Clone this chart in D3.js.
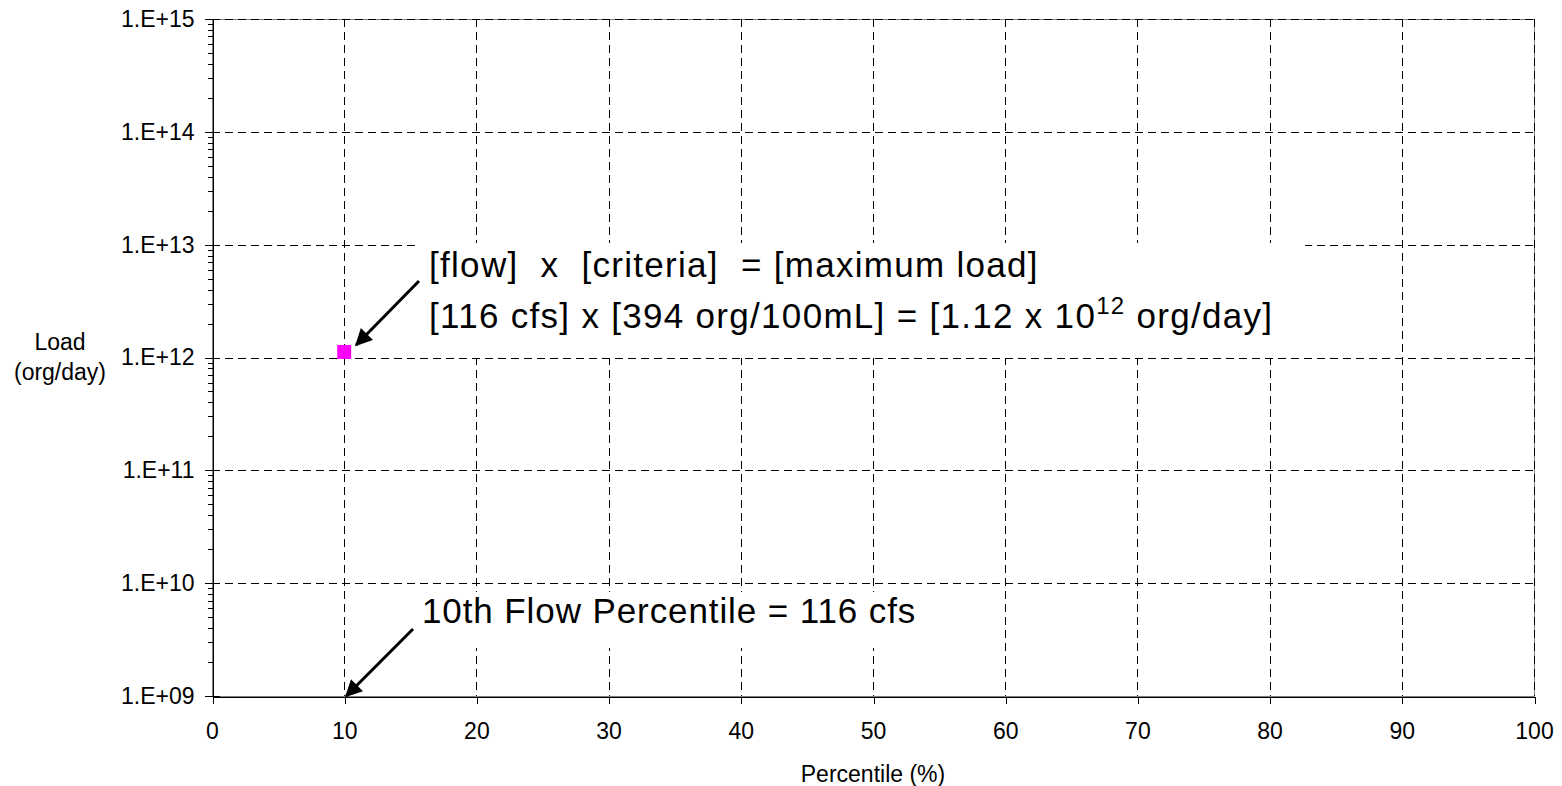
<!DOCTYPE html>
<html>
  <head>
    <meta charset="utf-8">
    <script src="https://d3js.org/d3.v7.min.js" charset="utf-8"></script>
    <style>
      body { margin: 0; background: #fff; }
      text { font-family: Arial, "Liberation Sans", sans-serif; fill: #000; }
    </style>
  </head>
  <body>
    <script type="text/javascript">

// chart data
var xTicks = [0, 10, 20, 30, 40, 50, 60, 70, 80, 90, 100];
var yTicks = [1e9, 1e10, 1e11, 1e12, 1e13, 1e14, 1e15];
var pointPercentile = [10];
var pointLoad = [1.12e12];
var flowPercentile = 10;
var flowLine1 = "[flow]  x  [criteria]  = [maximum load]";
var flowLine2 = "[116 cfs] x [394 org/100mL] = [1.12 x 10";
var flowSup = "12";
var flowLine2End = " org/day]";
var flowNote = "10th Flow Percentile = 116 cfs";

var w = 1562;
var h = 786;
var pLeft = 212, pRight = 1534, pTop = 19, pBottom = 696;

var x = d3.scaleLinear().domain([0, 100]).range([pLeft, pRight]);
var y = d3.scaleLog().domain([1e9, 1e15]).range([pBottom, pTop]);

var svg =
  d3.select("body")
    .append("svg")
    .attr("width", w)
    .attr("height", h);

// plot frame (gray)
svg.append("rect")
  .attr("x", pLeft + 0.5).attr("y", pTop + 0.5)
  .attr("width", pRight - pLeft).attr("height", pBottom - pTop)
  .style("fill", "none").style("stroke", "#808080").style("stroke-width", 1)
  .style("shape-rendering", "crispEdges");

// gridlines
var grid = svg.append("g")
  .style("stroke", "#000").style("stroke-width", 1)
  .style("stroke-dasharray", "8,5").style("shape-rendering", "crispEdges");

grid.selectAll("line.h")
  .data(yTicks.slice(1))
  .enter().append("line")
  .attr("x1", pLeft).attr("x2", pRight)
  .attr("y1", function(d) { return Math.round(y(d)) + 0.5; })
  .attr("y2", function(d) { return Math.round(y(d)) + 0.5; });

grid.selectAll("line.v")
  .data(xTicks.slice(1))
  .enter().append("line")
  .attr("y1", pTop).attr("y2", pBottom)
  .attr("x1", function(d) { return Math.round(x(d)) + 0.5; })
  .attr("x2", function(d) { return Math.round(x(d)) + 0.5; });

// white boxes behind the annotations
svg.append("rect")
  .attr("x", 417).attr("y", 243).attr("width", 888).attr("height", 115)
  .style("fill", "#fff");
svg.append("rect")
  .attr("x", 418).attr("y", 592).attr("width", 518).attr("height", 56)
  .style("fill", "#fff");

// y axis: minor ticks
var minors = [];
for (var e = 9; e < 15; e++) {
  for (var m = 2; m <= 9; m++) minors.push(m * Math.pow(10, e));
}
var yMinor = svg.append("g")
  .attr("transform", "translate(" + (pLeft + 0.5) + ",0)")
  .call(d3.axisLeft(y).tickValues(minors).tickSize(5).tickFormat(""));
yMinor.select(".domain").remove();
yMinor.selectAll("line").style("shape-rendering", "crispEdges");

// y axis: major ticks and labels
var yAxis = svg.append("g")
  .attr("transform", "translate(" + (pLeft + 0.5) + ",0)")
  .call(d3.axisLeft(y).tickValues(yTicks).tickSizeInner(8).tickSizeOuter(0).tickPadding(10)
    .tickFormat(function(d) { return "1.E+" + String(Math.round(Math.log10(d))).padStart(2, "0"); }));
yAxis.selectAll("line").attr("x2", -8).clone().attr("x2", 7);
yAxis.selectAll("line").style("shape-rendering", "crispEdges");
yAxis.select(".domain").style("shape-rendering", "crispEdges");
yAxis.selectAll("text").style("font-size", "23px").style("font-family", "Arial, 'Liberation Sans', sans-serif");

// x axis
var xAxis = svg.append("g")
  .attr("transform", "translate(0," + (pBottom + 0.5) + ")")
  .call(d3.axisBottom(x).tickValues(xTicks).tickSizeInner(7).tickSizeOuter(0).tickPadding(19));
xAxis.selectAll("line").attr("transform", "translate(0.5,0)")
  .style("shape-rendering", "crispEdges");
xAxis.select(".domain").style("shape-rendering", "crispEdges");
xAxis.selectAll("text").style("font-size", "23px").style("font-family", "Arial, 'Liberation Sans', sans-serif");

// axis titles
svg.append("text")
  .attr("x", (pLeft + pRight) / 2).attr("y", 782)
  .attr("text-anchor", "middle").style("font-size", "23px")
  .text("Percentile (%)");

var yTitle = svg.append("text")
  .attr("text-anchor", "middle").style("font-size", "23px");
yTitle.append("tspan").attr("x", 60).attr("y", 350).text("Load");
yTitle.append("tspan").attr("x", 60).attr("y", 380).text("(org/day)");

// annotation text
var note1 = svg.append("text")
  .attr("xml:space", "preserve")
  .style("white-space", "pre")
  .style("font-size", "35px")
  .style("letter-spacing", "1.3px");
note1.append("tspan").attr("x", 429).attr("y", 277).text(flowLine1);
note1.append("tspan").attr("x", 429).attr("y", 328).text(flowLine2);
note1.append("tspan").attr("dy", -14).style("font-size", "24px").text(flowSup);
note1.append("tspan").attr("dy", 14).text(flowLine2End);

svg.append("text")
  .attr("x", 422).attr("y", 623)
  .style("font-size", "35px")
  .style("letter-spacing", "0.9px")
  .text(flowNote);

// data point
svg.selectAll("rect.pt")
  .data(pointPercentile)
  .enter().append("rect")
  .attr("class", "pt")
  .attr("x", function(d) { return x(d) - 7; })
  .attr("y", function(d, i) { return y(pointLoad[i]) - 7; })
  .attr("width", 14).attr("height", 14)
  .style("fill", "#ff00ff");

// arrows
var defs = svg.append("defs");
defs.append("marker")
  .attr("id", "head")
  .attr("viewBox", "0 0 10 10")
  .attr("refX", 9).attr("refY", 5)
  .attr("markerUnits", "userSpaceOnUse")
  .attr("markerWidth", 22).attr("markerHeight", 17)
  .attr("orient", "auto")
  .append("path")
  .attr("d", "M0,0 L10,5 L0,10 z")
  .style("fill", "#000");

var arrows = [
  { x1: 419, y1: 281, x2: x(pointPercentile[0]) + 12, y2: y(pointLoad[0]) - 7 },
  { x1: 413, y1: 629, x2: x(flowPercentile) + 2, y2: y(1e9) }
];

svg.selectAll("line.arrow")
  .data(arrows)
  .enter().append("line")
  .attr("x1", function(d) { return d.x1; })
  .attr("y1", function(d) { return d.y1; })
  .attr("x2", function(d) { return d.x2; })
  .attr("y2", function(d) { return d.y2; })
  .style("stroke", "#000").style("stroke-width", 3)
  .attr("marker-end", "url(#head)");

    </script>
  </body>
</html>
